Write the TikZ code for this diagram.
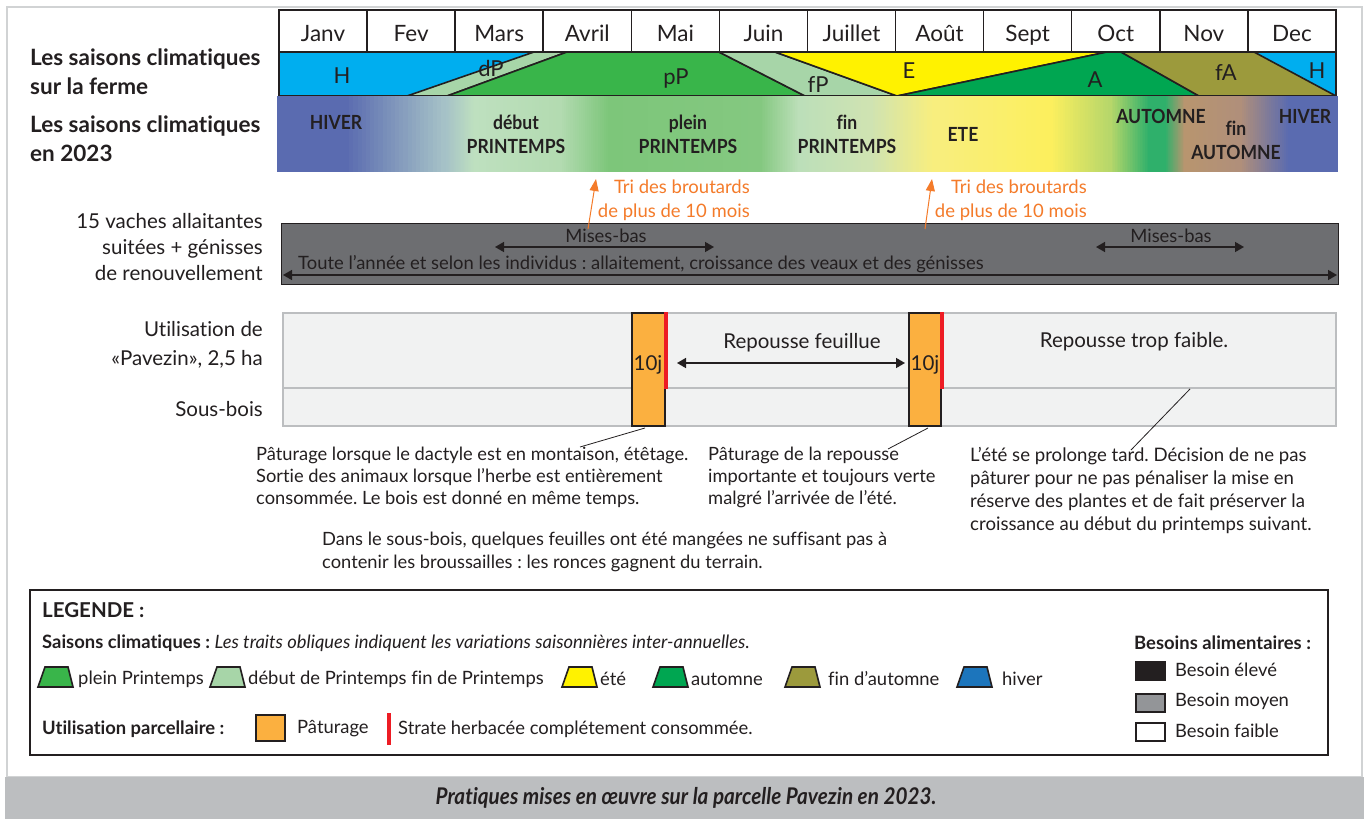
\documentclass[tikz,border=0pt]{standalone}
\usepackage{fontspec}
\setmainfont{Lato}[Ligatures=NoCommon]
\newfontfamily\cnd[FakeStretch=0.9,Ligatures=NoCommon]{Lato}
\usetikzlibrary{arrows.meta}
\frenchspacing
\definecolor{txtc}{HTML}{231F20}
\definecolor{hblue}{HTML}{00AEEF}
\definecolor{lgreen}{HTML}{A7D5A8}
\definecolor{pgreen}{HTML}{39B54A}
\definecolor{yel}{HTML}{FFF200}
\definecolor{agreen}{HTML}{00A651}
\definecolor{olive}{HTML}{9C9A3C}
\definecolor{boxgrey}{HTML}{6D6E71}
\definecolor{panelf}{HTML}{F1F2F2}
\definecolor{paneld}{HTML}{BCBEC0}
\definecolor{pat}{HTML}{FBB040}
\definecolor{redl}{HTML}{ED1C24}
\definecolor{oranget}{HTML}{F47B2A}
\definecolor{frameg}{HTML}{D1D3D4}
\definecolor{bannerg}{HTML}{BCBEC0}
\definecolor{lblue}{HTML}{1C75BC}
\definecolor{indigo}{HTML}{5A6BB0}
\definecolor{midgrey}{HTML}{939598}
\definecolor{ga}{RGB}{165,193,199}
\definecolor{gb}{RGB}{190,224,191}
\definecolor{gc}{RGB}{179,219,177}
\definecolor{gd}{RGB}{125,198,122}
\definecolor{ge}{RGB}{132,200,128}
\definecolor{gf}{RGB}{188,223,185}
\definecolor{gg}{RGB}{207,227,178}
\definecolor{gh}{RGB}{248,238,126}
\definecolor{gi}{RGB}{252,239,94}
\definecolor{gj}{RGB}{183,215,106}
\definecolor{gk}{RGB}{47,176,107}
\definecolor{gl}{RGB}{184,149,111}
\definecolor{gm}{RGB}{176,143,122}
\newcommand\mygradseg[4]{%
  \foreach \k in {0,...,23}{%
    \pgfmathsetmacro\xa{#1+(#2-#1)*\k/24}%
    \pgfmathsetmacro\xb{#1+(#2-#1)*(\k+1)/24+0.8}%
    \pgfmathtruncatemacro\pp{100-100*\k/23}%
    \fill[#3!\pp!#4] (\xa,96) rectangle (\xb,172);
  }}
\tikzset{
  hdr/.style={font=\bfseries\fontsize{22.5}{29}\selectfont, text=txtc, inner sep=0, align=left},
  monthcell/.style={draw=txtc, line width=1.5pt, fill=white, minimum width=88.08pt, minimum height=42pt, inner sep=0, text height=20pt, text depth=0pt, font=\fontsize{22.5}{24}\selectfont, text=txtc},
  seas/.style={draw=txtc, line width=1.6pt, line join=round},
  seaslab/.style={font=\fontsize{22}{24}\selectfont, text=txtc, inner sep=0, anchor=base},
  gradlab/.style={font=\cnd\bfseries\fontsize{19.5}{24}\selectfont, text=txtc, inner sep=0, align=center},
  lefttxt/.style={font=\fontsize{20.5}{26}\selectfont, text=txtc, inner sep=0, align=right},
  oratxt/.style={font=\fontsize{18.5}{23.5}\selectfont, text=oranget, inner sep=0, align=right},
  orarr/.style={draw=oranget, line width=1pt, -{Triangle[length=12pt,width=9pt]}},
  boxtxt/.style={font=\fontsize{18.4}{22}\selectfont, text=txtc, inner sep=0},
  dblarr/.style={draw=txtc, line width=1.5pt, {Triangle[length=9pt,width=10pt]}-{Triangle[length=9pt,width=10pt]}},
  panel/.style={fill=panelf, draw=paneld, line width=2pt},
  patbox/.style={fill=pat, draw=txtc, line width=1.5pt},
  redline/.style={draw=redl, line width=3.2pt},
  ptxt/.style={font=\fontsize{20.5}{24}\selectfont, text=txtc, inner sep=0},
  para/.style={font=\fontsize{18.3}{22}\selectfont, text=txtc, inner sep=0, align=left, anchor=north west},
  thinl/.style={draw=txtc, line width=0.8pt},
  leg/.style={font=\fontsize{18.4}{22}\selectfont, text=txtc, inner sep=0, anchor=west},
  legb/.style={font=\bfseries\fontsize{18.4}{22}\selectfont, text=txtc, inner sep=0, anchor=west},
  icon/.style={draw=txtc, line width=1.6pt, line join=miter},
}
\begin{document}
\begin{tikzpicture}[x=1pt,y=-1pt]
\useasboundingbox (0,0) rectangle (1368,819);
\fill[white] (0,0) rectangle (1368,819);
% outer frame and banner
\draw[frameg, line width=2pt] (7,7) rectangle (1362,777);
\fill[bannerg] (5,777) rectangle (1364,819);
\node[font=\cnd\bfseries\itshape\fontsize{23}{26}\selectfont, text=txtc, inner sep=0] (caption) at (686,798) {Pratiques mises en \oe uvre sur la parcelle Pavezin en 2023.};

% left headers
\node[hdr, anchor=north west] (hdr1) at (30,49) {Les saisons climatiques\\sur la ferme};
\node[hdr, anchor=north west] (hdr2) at (30,116) {Les saisons climatiques\\en 2023};

% month row
\foreach \m [count=\i from 0] in {Janv,Fev,Mars,Avril,Mai,Juin,Juillet,Ao\^ut,Sept,Oct,Nov,Dec}{
  \node[monthcell] (m\i) at (279+88.08*\i+44.04,31) {\m};
}

% season band (farm)
\fill[hblue] (279,52) rectangle (1336,96);
\filldraw[seas, fill=lgreen] (407,96) -- (534,52) -- (567,52) -- (447,96) -- cycle;
\filldraw[seas, fill=pgreen] (447,96) -- (567,52) -- (719,52) -- (805,96) -- cycle;
\filldraw[seas, fill=lgreen] (719,52) -- (775,52) -- (897,96) -- (805,96) -- cycle;
\filldraw[seas, fill=yel] (775,52) -- (1107,52) -- (897,96) -- cycle;
\filldraw[seas, fill=agreen] (897,96) -- (1107,52) -- (1121,52) -- (1199,96) -- cycle;
\filldraw[seas, fill=olive] (1121,52) -- (1254,52) -- (1336,96) -- (1199,96) -- cycle;
\draw[seas] (279,52) rectangle (1336,96);
\node[seaslab] (sH1) at (342,83) {H};
\node[seaslab] (sdP) at (491,76) {dP};
\node[seaslab] (spP) at (676,84) {pP};
\node[seaslab] (sfP) at (818,92) {fP};
\node[seaslab] (sE) at (909,78) {E};
\node[seaslab] (sA) at (1095,87) {A};
\node[seaslab] (sfA) at (1226,80) {fA};
\node[seaslab] (sH2) at (1317,78) {H};

% gradient band 2023
\fill[indigo] (277,96) rectangle (346,172);
\mygradseg{345}{445}{indigo}{ga}
\mygradseg{445}{475}{ga}{gb}
\mygradseg{475}{560}{gb}{gc}
\mygradseg{560}{610}{gc}{gd}
\mygradseg{610}{760}{gd}{ge}
\mygradseg{760}{800}{ge}{gf}
\mygradseg{800}{870}{gf}{gg}
\mygradseg{870}{935}{gg}{gh}
\mygradseg{935}{1050}{gh}{gi}
\mygradseg{1050}{1110}{gi}{gj}
\mygradseg{1110}{1150}{gj}{gk}
\fill[gk] (1150,96) rectangle (1166,172);
\mygradseg{1165}{1185}{gk}{gl}
\mygradseg{1185}{1240}{gl}{gm}
\mygradseg{1240}{1290}{gm}{indigo}
\fill[indigo] (1290,96) rectangle (1338,172);
\node[gradlab] (gH1) at (336,122) {HIVER};
\node[gradlab] (gdP) at (516,134) {début\\PRINTEMPS};
\node[gradlab] (gpP) at (688,134) {plein\\PRINTEMPS};
\node[gradlab] (gfP) at (847,134.5) {fin\\PRINTEMPS};
\node[gradlab] (gE) at (963,134) {ETE};
\node[gradlab] (gA) at (1161,116) {AUTOMNE};
\node[gradlab] (gfA) at (1236,140) {fin\\AUTOMNE};
\node[gradlab] (gH2) at (1305,116) {HIVER};

% tri des broutards
\node[oratxt, anchor=north east] (tri1) at (750,180) {Tri des broutards\\de plus de 10 mois};
\node[oratxt, anchor=north east] (tri2) at (1087,180) {Tri des broutards\\de plus de 10 mois};
\coordinate (o1s) at (588,229);
\coordinate (o1e) at (596,179);
\coordinate (o2s) at (925,229);
\coordinate (o2e) at (932,179);

% herd box
\node[lefttxt, anchor=north east] (herd) at (263,213) {15 vaches allaitantes\\suitées + génisses\\de renouvellement};
\filldraw[fill=boxgrey, draw=txtc, line width=1pt] (281,223) rectangle (1338,284);
\draw[orarr] (o1s) -- (o1e);
\draw[orarr] (o2s) -- (o2e);
\node[boxtxt] (mb1) at (606,236) {Mises-bas};
\coordinate (mb1a) at (495,247);
\coordinate (mb1b) at (714,247);
\draw[dblarr] (mb1a) -- (mb1b);
\node[boxtxt] (mb2) at (1171,236) {Mises-bas};
\coordinate (mb2a) at (1096,247);
\coordinate (mb2b) at (1244,247);
\draw[dblarr] (mb2a) -- (mb2b);
\node[boxtxt, anchor=west] (toute) at (298,264) {Toute l’année et selon les individus : allaitement, croissance des veaux et des génisses};
\coordinate (ta) at (283,275);
\coordinate (tb) at (1337,275);
\draw[dblarr] (ta) -- (tb);

% parcel panels
\node[lefttxt, anchor=north east, font=\fontsize{20.5}{29}\selectfont] (util) at (263,321) {Utilisation de\\«Pavezin», 2,5 ha};
\node[lefttxt, anchor=east] (sousbois) at (263,409) {Sous-bois};
\draw[panel] (283,313) rectangle (1336,388);
\draw[panel] (283,388) rectangle (1336,426);
\filldraw[patbox] (632,313) rectangle (665,426);
\draw[redline] (666,312) -- (666,389);
\node[ptxt] (dix1) at (648,365) {10j};
\filldraw[patbox] (909,313) rectangle (941,426);
\draw[redline] (942,312) -- (942,389);
\node[ptxt] (dix2) at (925,365) {10j};
\node[ptxt] (repf) at (802,343) {Repousse feuillue};
\coordinate (rfa) at (677,363);
\coordinate (rfb) at (905,363);
\draw[dblarr] (rfa) -- (rfb);
\node[ptxt] (rept) at (1134,342) {Repousse trop faible.};

% paragraphs
\node[para] (p1) at (256,447) {Pâturage lorsque le dactyle est en montaison, étêtage.\\Sortie des animaux lorsque l’herbe est entièrement\\consommée. Le bois est donné en même temps.};
\node[para] (p2) at (708,447) {Pâturage de la repousse\\importante et toujours verte\\malgré l’arrivée de l’été.};
\node[para, font=\fontsize{18.6}{23}\selectfont] (p3) at (970,447) {L’été se prolonge tard. Décision de ne pas\\pâturer pour ne pas pénaliser la mise en\\réserve des plantes et de fait préserver la\\croissance au début du printemps suivant.};
\node[para, font=\fontsize{18.3}{23}\selectfont] (p4) at (322,532) {Dans le sous-bois, quelques feuilles ont été mangées ne suffisant pas à\\contenir les broussailles : les ronces gagnent du terrain.};
\coordinate (c1a) at (645,428);
\coordinate (c1b) at (580,447);
\coordinate (c2a) at (928,428);
\coordinate (c2b) at (888,449);
\coordinate (c3a) at (1190,389);
\coordinate (c3b) at (1131,450);
\draw[thinl] (c1a) -- (c1b);
\draw[thinl] (c2a) -- (c2b);
\draw[thinl] (c3a) -- (c3b);

% legend
\draw[draw=txtc, line width=1.8pt] (30,590) rectangle (1328,755);
\node[legb, font=\bfseries\fontsize{20.5}{24}\selectfont] (legt) at (42,610) {LEGENDE :};
\node[legb] (sc) at (42,643) {Saisons climatiques :};
\node[leg, font=\itshape\fontsize{18.4}{22}\selectfont] (scit) at (sc.east) {\ Les traits obliques indiquent les variations saisonnières inter-annuelles.};
\foreach \x/\c/\tx/\t [count=\k] in {38/pgreen/78/plein Printemps, 210/lgreen/248/début de Printemps fin de Printemps, 562/yel/600/été, 653/agreen/691/automne, 785/olive/828/fin d’automne, 957/lblue/1002/hiver}{
  \filldraw[icon, fill=\c] (\x,687) -- (\x+7,667) -- (\x+30,667) -- (\x+35,687) -- cycle;
  \node[leg] (li\k) at (\tx,679) {\t};
}
\node[legb] (up) at (42,729) {Utilisation parcellaire :};
\filldraw[patbox] (256,715) rectangle (285,741);
\node[leg] (lpat) at (297,729) {Pâturage};
\draw[redline] (389,713) -- (389,745);
\node[leg] (lstr) at (398,729) {Strate herbacée complétement consommée.};
\node[legb] (ba) at (1134,643) {Besoins alimentaires :};
\filldraw[draw=txtc, line width=1.2pt, fill=txtc] (1136,662) rectangle (1165,680);
\node[leg] (be) at (1175,670) {Besoin élevé};
\filldraw[draw=txtc, line width=1.2pt, fill=midgrey] (1136,694) rectangle (1165,712);
\node[leg] (bm) at (1175,701) {Besoin moyen};
\filldraw[draw=txtc, line width=1.2pt, fill=white] (1136,723) rectangle (1165,741);
\node[leg] (bf) at (1175,731) {Besoin faible};
\end{tikzpicture}
\end{document}
